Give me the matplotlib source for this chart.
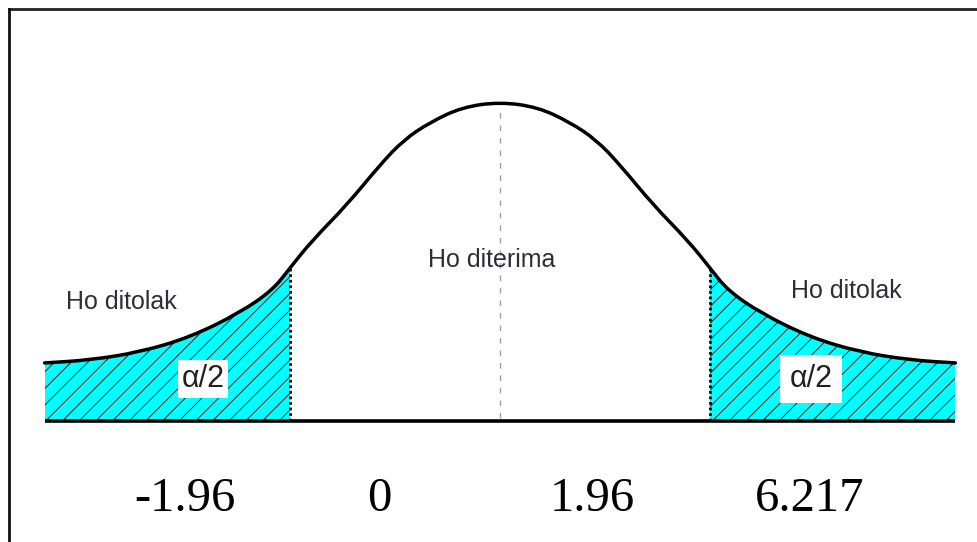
import numpy as np
import matplotlib
matplotlib.use("Agg")
import matplotlib.pyplot as plt
from matplotlib.path import Path
from matplotlib.patches import PathPatch, Rectangle
from matplotlib.lines import Line2D

# bell curve (right half, mirrored): z position, relative height
half_z = [0.0, 0.35, 0.65, 0.90, 1.12, 1.43, 1.75, 1.96, 2.12, 2.43, 2.89, 3.36, 3.83, 4.25]
half_h = [1.0, 0.984, 0.937, 0.881, 0.803, 0.677, 0.567, 0.480, 0.411, 0.339, 0.263, 0.216, 0.191, 0.182]
crit = 1.96

region_labels = ["Ho ditolak", "Ho diterima", "Ho ditolak"]
tail_label = "\u03b1/2"
value_labels = ["-1.96", "0", "1.96", "6.217"]

W, H = 978, 542
fig = plt.figure(figsize=(W / 100, H / 100), dpi=100)
ax = fig.add_axes([0, 0, 1, 1])
ax.set_xlim(-500 / 107.14, 478 / 107.14)
ax.set_ylim(-121 / 319, 421 / 319)
ax.axis("off")

plt.rcParams["hatch.color"] = "#7a7272"
plt.rcParams["hatch.linewidth"] = 0.6

z = np.array([-v for v in half_z[::-1]] + half_z[1:])
h = np.array(half_h[::-1] + half_h[1:])
pts = np.column_stack([z, h])

# smooth outline: quadratic b-spline through the read points
verts = [pts[0], (pts[0] + pts[1]) / 2]
codes = [Path.MOVETO, Path.LINETO]
for i in range(1, len(pts) - 1):
    verts += [pts[i], (pts[i] + pts[i + 1]) / 2]
    codes += [Path.CURVE3, Path.CURVE3]
verts.append(pts[-1])
codes.append(Path.LINETO)
curve = Path(verts, codes)

fill_path = Path(verts + [(z[-1], 0), (z[0], 0), (z[0], 0)],
                 codes + [Path.LINETO, Path.LINETO, Path.CLOSEPOLY])

for x0, x1 in [(z[0], -crit), (crit, z[-1])]:
    p = PathPatch(fill_path, facecolor="#00ffff", hatch="//", linewidth=0, zorder=1)
    ax.add_patch(p)
    p.set_clip_path(Rectangle((x0, -0.1), x1 - x0, 1.3, transform=ax.transData))

ax.add_patch(PathPatch(curve, facecolor="none", edgecolor="black", linewidth=2.5,
                       capstyle="round", zorder=3))

h_crit = half_h[half_z.index(crit)]
ax.vlines([-crit, crit], 0, h_crit, colors="black", linestyles=(0, (1, 1)),
          linewidth=2.0, zorder=3)
ax.vlines([0], 0.01, 0.975, colors="#a0a0a0", linestyles=(0, (4, 5)),
          linewidth=1.0, zorder=2)
ax.hlines([0], z[0], z[-1], colors="black", linewidth=2.6, zorder=4)

sans = "Liberation Sans"
serif = "Liberation Serif"


def fx(px):
    return px / W


def fy(py):
    return 1 - py / H


lab_style = dict(ha="center", va="center", fontsize=18, family=sans, color="#2e2e3a")
fig.text(fx(121), fy(302), region_labels[0], **lab_style)
fig.text(fx(492), fy(260), region_labels[1], **lab_style)
fig.text(fx(846), fy(291), region_labels[2], **lab_style)

fig.text(fx(203), fy(379), tail_label, ha="center", va="center", fontsize=22,
         family=sans, color="#222222", zorder=5,
         bbox=dict(boxstyle="square,pad=0.12", facecolor="white", edgecolor="none"))
fig.text(fx(811), fy(379), tail_label, ha="center", va="center", fontsize=22,
         family=sans, color="#222222", zorder=5,
         bbox=dict(boxstyle="square,pad=0.3", facecolor="white", edgecolor="none"))

for px, lab in zip([185, 379, 592, 810], value_labels):
    fig.text(fx(px), fy(499), lab, ha="center", va="center", fontsize=35,
             family=serif, color="black")

fig.add_artist(Line2D([fx(9), 1], [fy(9), fy(9)], color="#222222", linewidth=2))
fig.add_artist(Line2D([fx(9), fx(9)], [fy(9), 0], color="#111111", linewidth=2))

fig.savefig("out.png", dpi=100)
